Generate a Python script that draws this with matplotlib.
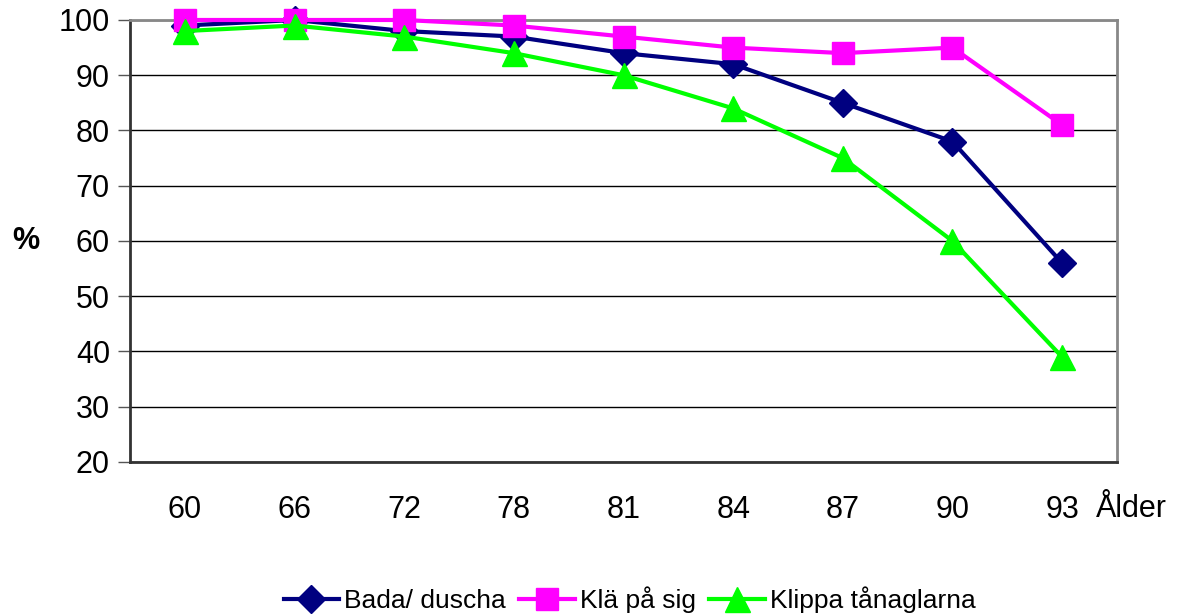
import matplotlib
matplotlib.use("Agg")
import matplotlib.pyplot as plt

plt.rcParams['font.family'] = ['Liberation Sans', 'DejaVu Sans']

ages = ['60', '66', '72', '78', '81', '84', '87', '90', '93']
bada = [99, 100, 98, 97, 94, 92, 85, 78, 56]
kla = [100, 100, 100, 99, 97, 95, 94, 95, 81]
klippa = [98, 99, 97, 94, 90, 84, 75, 60, 39]
yticks = [20, 30, 40, 50, 60, 70, 80, 90, 100]

fig = plt.figure(figsize=(11.77, 6.15), dpi=100)
ax = fig.add_axes([0.1105, 0.2488, 0.8385, 0.7187])

x = [i + 0.5 for i in range(len(ages))]
ax.plot(x, bada, color='#000080', lw=3, marker='D', ms=14, label='Bada/ duscha', clip_on=False, zorder=3)
ax.plot(x, kla, color='#FF00FF', lw=3, marker='s', ms=16, label='Klä på sig', clip_on=False, zorder=3)
ax.plot(x, klippa, color='#00FF00', lw=3, marker='^', ms=18, label='Klippa tånaglarna', clip_on=False, zorder=3)

ax.set_xlim(0, len(ages))
ax.set_ylim(20, 100)
ax.set_yticks(yticks)
ax.set_xticks(x)
ax.set_xticklabels(ages)
ax.tick_params(axis='x', length=0, pad=24, labelsize=22)
ax.tick_params(axis='y', length=8.5, width=1, color='#555555', pad=6, labelsize=22)
ax.yaxis.grid(True, color='black', lw=1)
ax.set_axisbelow(True)

for side in ['left', 'bottom']:
    ax.spines[side].set_color('#333333')
    ax.spines[side].set_linewidth(2)
for side in ['top', 'right']:
    ax.spines[side].set_color('#888888')
    ax.spines[side].set_linewidth(2)

ax.set_ylabel('%', rotation=0, fontsize=22, fontweight='bold', labelpad=24, va='center')
ax.annotate('Ålder', xy=(0.979, 0), xycoords='axes fraction', xytext=(0, -47),
            textcoords='offset pixels', ha='left', va='center', fontsize=22)

fig.legend(loc='lower center', bbox_to_anchor=(0.535, -0.035), ncol=3, frameon=False,
           fontsize=19, handlelength=2.1, handletextpad=0.2, columnspacing=0.5)

fig.savefig('out.png', dpi=100)
